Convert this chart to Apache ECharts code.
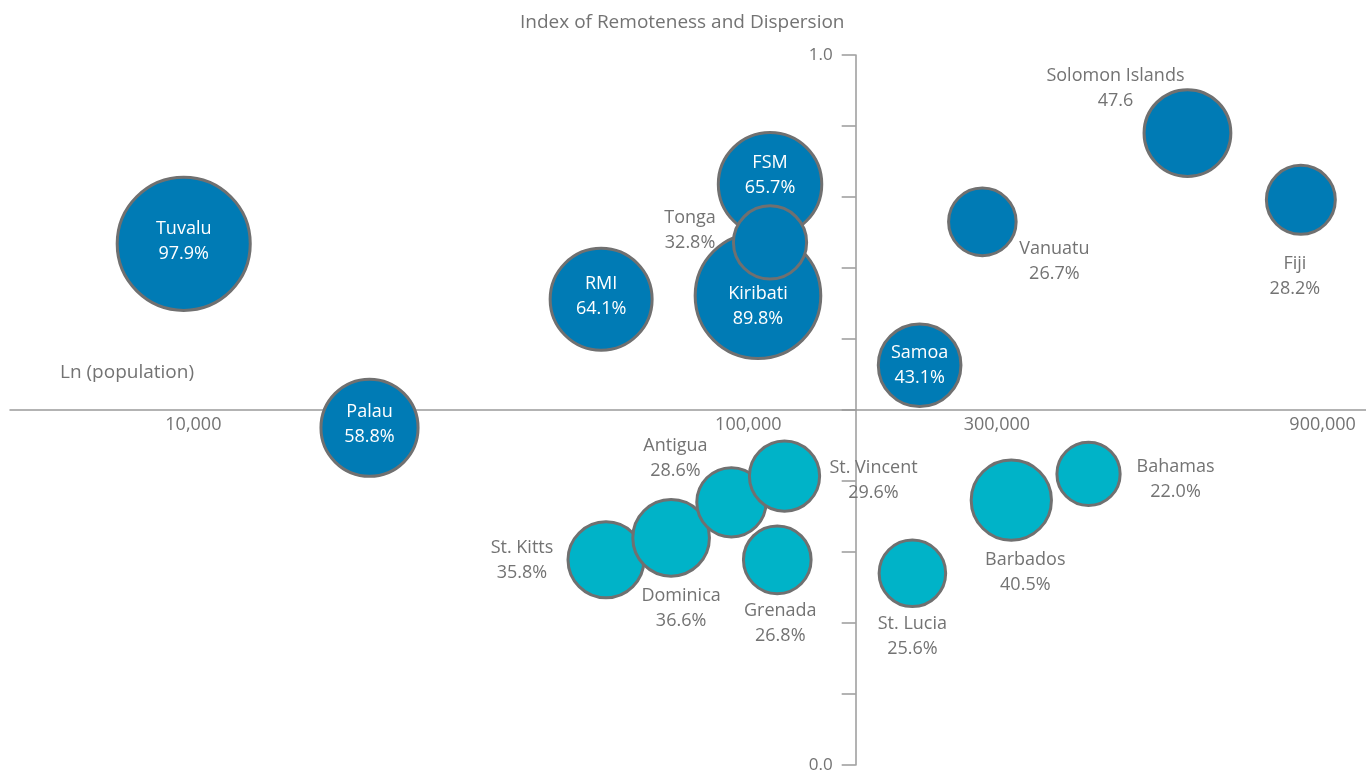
<!DOCTYPE html>
<html>
<head>
<meta charset="utf-8">
<title>Remoteness and population of small island states</title>
<script src="https://cdn.jsdelivr.net/npm/echarts@6/dist/echarts.min.js"></script>
<style>
  html, body { margin: 0; padding: 0; background: #ffffff; }
  #chart { width: 1366px; height: 780px; }
</style>
</head>
<body>
<div id="chart"></div>
<script>
// ---- Pacific states: ln(population), remoteness index, share value ----
const pacificNames  = ['Tuvalu', 'Palau', 'RMI', 'FSM', 'Kiribati', 'Tonga', 'Samoa', 'Vanuatu', 'Solomon Islands', 'Fiji'];
const pacificLnPop  = [9.17, 9.94, 10.90, 11.60, 11.55, 11.60, 12.22, 12.48, 13.33, 13.80];
const pacificIndex  = [0.734, 0.475, 0.656, 0.818, 0.661, 0.736, 0.563, 0.765, 0.890, 0.796];
const pacificShare  = [97.9, 58.8, 64.1, 65.7, 89.8, 32.8, 43.1, 26.7, 47.6, 28.2];

// ---- Caribbean states ----
const caribNames    = ['St. Kitts', 'Dominica', 'Antigua', 'St. Vincent', 'Grenada', 'St. Lucia', 'Barbados', 'Bahamas'];
const caribLnPop    = [10.92, 11.19, 11.44, 11.66, 11.63, 12.19, 12.60, 12.92];
const caribIndex    = [0.289, 0.320, 0.370, 0.407, 0.289, 0.270, 0.373, 0.410];
const caribShare    = [35.8, 36.6, 28.6, 29.6, 26.8, 25.6, 40.5, 22.0];

// ---- axis labels ----
const xTickLabels   = ['10,000', '100,000', '300,000', '900,000'];
const xTickAt       = [9.21, 11.51, 12.54, 13.89];   // ln(population) anchor of each label
const yTickValues   = [0, 0.1, 0.2, 0.3, 0.4, 0.5, 0.6, 0.7, 0.8, 0.9, 1.0];
const yLabelValues  = [0, 1];

// values printed without a percent sign
const plainValueNames = ['Solomon Islands'];
// names drawn inside their bubble (white), the rest beside it (grey)
const insideNames = ['Tuvalu', 'Palau', 'RMI', 'FSM', 'Kiribati', 'Samoa'];

// ---- layout / style ----
const W = 1366, H = 780;
const grid = { left: 10, right: 0, top: 55, bottom: 15 };
const gridW = W - grid.left - grid.right;
const gridH = H - grid.top - grid.bottom;
const X_MIN = 8.45, X_MAX = 14.07, X_CROSS = 11.955;
const Y_MIN = 0, Y_MAX = 1, Y_CROSS = 0.5;

const FONT = '"Open Sans", Lato, sans-serif';
const TEXT = '#737373';
const AXIS = '#9a9a9a';
const PACIFIC = '#007bb5';
const CARIB = '#00b3c8';
const EDGE = '#707070';

// label block offset from bubble centre
const labelShift = {
  'Tuvalu': [0, -2], 'Palau': [0, -3], 'RMI': [0, -3], 'FSM': [0, -9],
  'Kiribati': [0, 11], 'Samoa': [0, 0],
  'Tonga': [-80, -12], 'Solomon Islands': [-72, -45], 'Vanuatu': [72, 40],
  'Fiji': [-6, 77],
  'St. Kitts': [-84, 1], 'Dominica': [10, 71], 'Antigua': [-56, -44],
  'St. Vincent': [89, 4], 'Grenada': [3, 64], 'St. Lucia': [0, 63],
  'Barbados': [14, 72], 'Bahamas': [87, 5]
};

function bubbleSize(val) {
  return 43 + 0.92 * val[2];
}

function buildData(names, lnPop, index, share) {
  return names.map(function (n, i) {
    const inside = insideNames.indexOf(n) >= 0;
    return {
      name: n,
      value: [lnPop[i], index[i], share[i]],
      label: {
        offset: labelShift[n] || [0, 0],
        color: inside ? '#ffffff' : TEXT
      }
    };
  });
}

function labelText(p) {
  const suffix = plainValueNames.indexOf(p.name) >= 0 ? '' : '%';
  return p.name + '\n' + p.value[2].toFixed(1) + suffix;
}

function nearestTickLabel(v) {
  let best = 0;
  for (let i = 1; i < xTickAt.length; i++) {
    if (Math.abs(xTickAt[i] - v) < Math.abs(xTickAt[best] - v)) best = i;
  }
  return xTickLabels[best];
}

const seriesLabel = {
  show: true,
  position: 'inside',
  align: 'center',
  verticalAlign: 'middle',
  formatter: labelText,
  fontFamily: FONT,
  fontSize: 18,
  lineHeight: 25
};

const chart = echarts.init(document.getElementById('chart'), null, { renderer: 'canvas' });

chart.setOption({
  animation: false,
  backgroundColor: '#ffffff',
  textStyle: { fontFamily: FONT },
  title: [
    {
      text: 'Index of Remoteness and Dispersion',
      left: 515, top: 8,
      textStyle: { color: TEXT, fontFamily: FONT, fontSize: 19, fontWeight: 'normal' }
    },
    {
      text: 'Ln (population)',
      left: 55, top: 358,
      textStyle: { color: TEXT, fontFamily: FONT, fontSize: 19, fontWeight: 'normal' }
    }
  ],
  grid: grid,
  xAxis: {
    type: 'value',
    min: X_MIN, max: X_MAX,
    position: 'bottom',
    offset: -((Y_CROSS - Y_MIN) / (Y_MAX - Y_MIN)) * gridH,
    axisLine: { show: true, onZero: false, lineStyle: { color: AXIS, width: 1.5 } },
    axisTick: { show: false },
    splitLine: { show: false },
    axisLabel: {
      customValues: xTickAt,
      formatter: nearestTickLabel,
      color: TEXT, fontFamily: FONT, fontSize: 18, margin: 6
    }
  },
  yAxis: {
    type: 'value',
    min: Y_MIN, max: Y_MAX, interval: 0.1,
    position: 'left',
    offset: -((X_CROSS - X_MIN) / (X_MAX - X_MIN)) * gridW,
    axisLine: { show: true, onZero: false, lineStyle: { color: AXIS, width: 1.5 } },
    axisTick: { show: true, length: 14, customValues: yTickValues, lineStyle: { color: AXIS, width: 1.5 } },
    splitLine: { show: false },
    axisLabel: {
      customValues: yLabelValues,
      formatter: function (v) { return v.toFixed(1); },
      color: TEXT, fontFamily: FONT, fontSize: 17, margin: 23
    }
  },
  series: [
    {
      name: 'Pacific',
      type: 'scatter',
      symbol: 'circle',
      symbolSize: bubbleSize,
      itemStyle: { color: PACIFIC, borderColor: EDGE, borderWidth: 3, opacity: 1 },
      label: seriesLabel,
      emphasis: { disabled: true },
      data: buildData(pacificNames, pacificLnPop, pacificIndex, pacificShare)
    },
    {
      name: 'Caribbean',
      type: 'scatter',
      symbol: 'circle',
      symbolSize: bubbleSize,
      itemStyle: { color: CARIB, borderColor: EDGE, borderWidth: 3, opacity: 1 },
      label: seriesLabel,
      emphasis: { disabled: true },
      data: buildData(caribNames, caribLnPop, caribIndex, caribShare)
    }
  ]
});
</script>
</body>
</html>
